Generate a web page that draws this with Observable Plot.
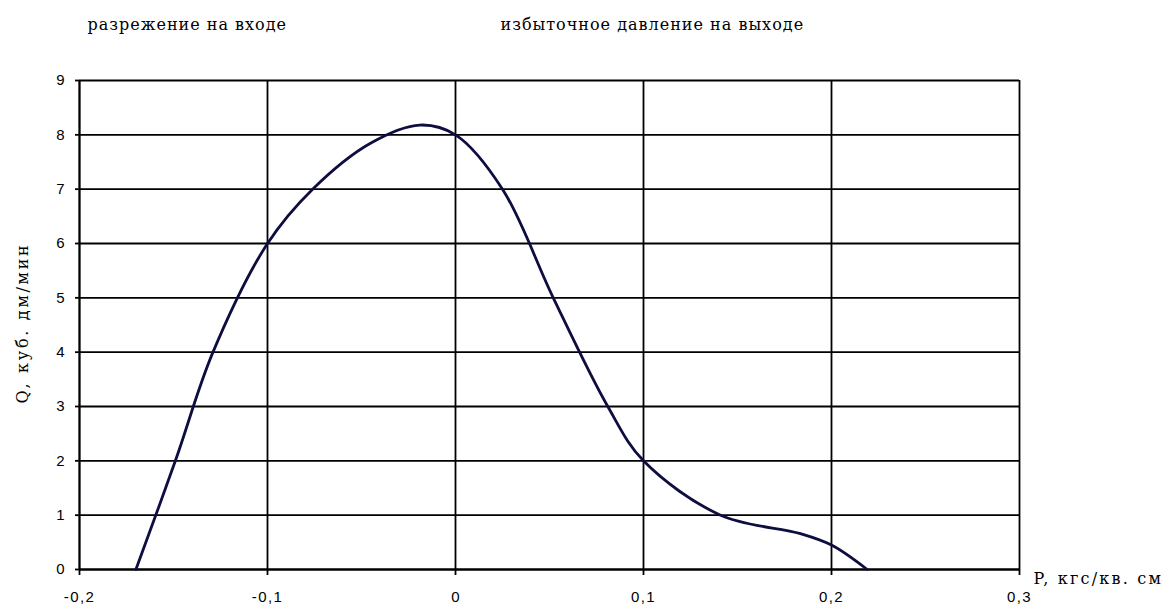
<!DOCTYPE html>
<html>
<head>
<meta charset="utf-8">
<script src="https://cdn.jsdelivr.net/npm/d3@7"></script>
<script src="https://cdn.jsdelivr.net/npm/@observablehq/plot@0.6"></script>
<style>
  html, body { margin: 0; padding: 0; background: #fff; }
</style>
</head>
<body>
<div id="chart"></div>
<script>
// Pressure P (kgf/cm²) and flow Q (dm³/min)
const pressure = [-0.17, -0.149, -0.129, -0.1, -0.076, -0.045, -0.019, 0, 0.025, 0.052, 0.081, 0.1, 0.141, 0.1835, 0.2, 0.219];
const flow     = [0, 2, 4, 6, 7, 7.85, 8.18, 8.0, 7, 5, 3, 2, 1, 0.66, 0.45, 0];

const xTicks = [-0.2, -0.1, 0, 0.1, 0.2, 0.3];
const yTicks = [0, 1, 2, 3, 4, 5, 6, 7, 8, 9];

const titleLeft = "разрежение на входе";
const titleRight = "избыточное давление на выходе";
const xLabel = "P, кгс/кв. см";
const yLabel = "Q, куб. дм/мин";

const data = pressure.map((p, i) => ({p, q: flow[i]}));
const fmt = d => d3.format(".1~f")(d).replace("\u2212", "-").replace(".", ",");

const serif = "'DejaVu Serif', 'Liberation Serif', serif";

const chart = Plot.plot({
  width: 1165,
  height: 607,
  marginLeft: 79,
  marginRight: 146,
  marginTop: 80,
  marginBottom: 38,
  style: {fontFamily: "'Liberation Sans', Arial, sans-serif", fontSize: "15px", color: "#000", background: "#fff"},
  x: {domain: [-0.2, 0.3]},
  y: {domain: [0, 9]},
  marks: [
    Plot.gridX(xTicks, {stroke: "#000", strokeOpacity: 1, strokeWidth: 1.8}),
    Plot.gridY(yTicks, {stroke: "#000", strokeOpacity: 1, strokeWidth: 1.8}),
    Plot.axisX(xTicks, {tickSize: 6, tickPadding: 16, tickFormat: d => fmt(d), stroke: "#000", strokeWidth: 1.8, label: null}),
    Plot.axisY(yTicks, {tickSize: 4, tickPadding: 11, tickFormat: d => String(d), stroke: "#000", strokeWidth: 1.8, label: null}),
    Plot.ruleX([-0.2], {stroke: "#000", strokeWidth: 1.8}),
    Plot.ruleY([0], {stroke: "#000", strokeWidth: 1.8}),
    Plot.line(data, {x: "p", y: "q", curve: "catmull-rom", stroke: "#0d0d40", strokeWidth: 2.8}),
    Plot.text([titleLeft], {frameAnchor: "top-left", dx: 8, dy: -62, textAnchor: "start", fontFamily: serif, fontSize: 16}),
    Plot.text([titleRight], {frameAnchor: "top-left", dx: 421, dy: -62, textAnchor: "start", fontFamily: serif, fontSize: 16}),
    Plot.text([xLabel], {frameAnchor: "bottom-right", dx: 14, dy: 14, textAnchor: "start", fontFamily: serif, fontSize: 16}),
    Plot.text([yLabel], {frameAnchor: "left", dx: -57, dy: -2, rotate: -90, textAnchor: "middle", fontFamily: serif, fontSize: 16})
  ]
});
document.getElementById("chart").appendChild(chart);

// Tick label size, and wider spacing on labels to match the reference's wide fonts
d3.select(chart).selectAll("text").each(function() {
  const t = this.textContent;
  if (/^-?\d(,\d)?$/.test(t)) {
    this.style.fontSize = "15px";
    if (t.includes(",") || t === "0" && this.getAttribute("y") !== null) this.style.letterSpacing = t.includes(",") ? "1.4px" : "";
  }
  if (t === titleLeft || t === titleRight) this.style.letterSpacing = "1px";
  if (t === xLabel) this.style.letterSpacing = "2.2px";
  if (t === yLabel) this.style.letterSpacing = "2.7px";
});
</script>
</body>
</html>
